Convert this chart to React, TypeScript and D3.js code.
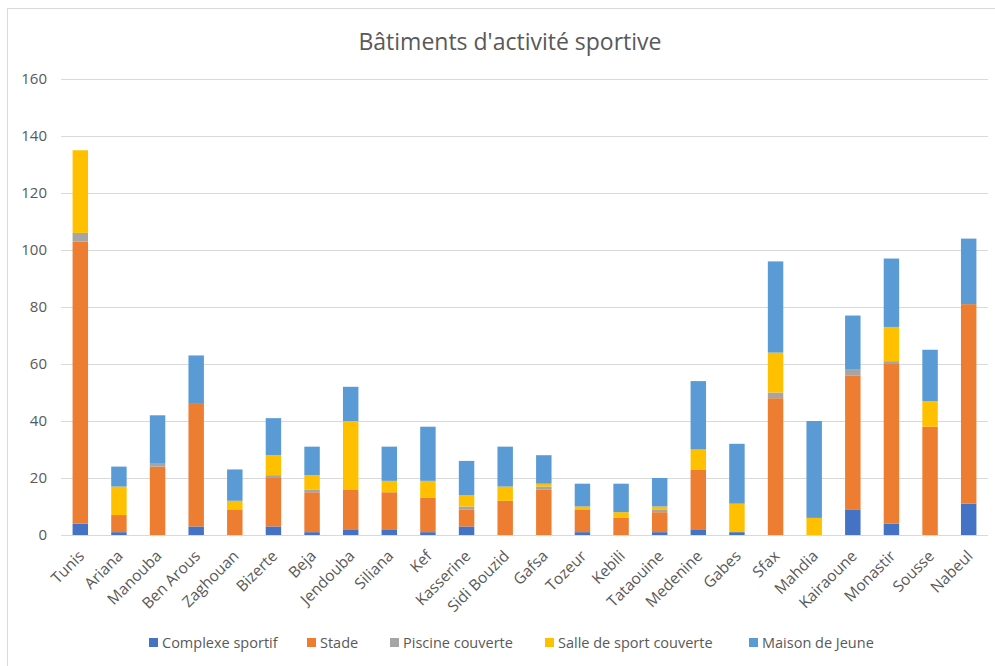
import React from "react";
import * as d3 from "d3";

const categories = ["Tunis","Ariana","Manouba","Ben Arous","Zaghouan","Bizerte","Beja","Jendouba","Siliana","Kef","Kasserine","Sidi Bouzid","Gafsa","Tozeur","Kebili","Tataouine","Medenine","Gabes","Sfax","Mahdia","Kairaoune","Monastir","Sousse","Nabeul"];
const complexeSportif = [4,1,0,3,0,3,1,2,2,1,3,0,0,1,0,1,2,1,0,0,9,4,0,11];
const stade = [99,6,24,43,9,17,14,14,13,12,6,12,16,8,6,7,21,0,48,0,47,56,38,70];
const piscineCouverte = [3,0,1,0,0,1,1,0,0,0,1,0,1,0,0,1,0,0,2,0,2,1,0,0];
const salleSport = [29,10,0,0,3,7,5,24,4,6,4,5,1,1,2,1,7,10,14,6,0,12,9,0];
const maisonJeune = [0,7,17,17,11,13,10,12,12,19,12,14,10,8,10,10,24,21,32,34,19,24,18,23];
const seriesNames = ["Complexe sportif","Stade","Piscine couverte","Salle de sport couverte","Maison de Jeune"];
const seriesColors = ["#4472C4","#ED7D31","#A5A5A5","#FFC000","#5B9BD5"];
const yTicks = [0,20,40,60,80,100,120,140,160];
const title = "Bâtiments d'activité sportive";

const W = 995, H = 666;
const left = 61, right = 988, top = 79, bottom = 535;
const font = "'Open Sans', sans-serif";
const textColor = "#595959";

export default function App() {
  const seriesValues = [complexeSportif, stade, piscineCouverte, salleSport, maisonJeune];
  const rows = categories.map((c, i) => {
    const r: any = { cat: c };
    seriesNames.forEach((s, k) => { r[s] = seriesValues[k][i]; });
    return r;
  });
  const stacked = d3.stack().keys(seriesNames)(rows);
  const x = d3.scaleBand().domain(categories).range([left, right]).paddingInner(0.6).paddingOuter(0.3);
  const y = d3.scaleLinear().domain([0, 160]).range([bottom, top]);
  const legendX = [149, 307, 390, 545, 749];

  return (
    <svg width={W} height={H} style={{ position: "absolute", left: 0, top: 0, background: "#fff" }} fontFamily={font}>
      <rect x={0} y={0} width={W} height={H} fill="#fff" />
      <rect x={7.5} y={8.5} width={W + 20} height={H + 20} fill="none" stroke="#d9d9d9" strokeWidth={1} />
      <text x={510} y={50} textAnchor="middle" fontSize={23} fill={textColor}>{title}</text>
      {yTicks.map(t => (
        <g key={t}>
          <line x1={left} x2={right} y1={Math.round(y(t)) + 0.5} y2={Math.round(y(t)) + 0.5} stroke="#d9d9d9" strokeWidth={1} />
          <text x={47} y={y(t)} dy="0.35em" textAnchor="end" fontSize={15} fill={textColor}>{t}</text>
        </g>
      ))}
      {stacked.map((s, k) => (
        <g key={s.key} fill={seriesColors[k]}>
          {s.map((d, i) => (
            d[1] - d[0] > 0 ? (
              <rect key={i} x={x(categories[i])!} width={x.bandwidth()} y={y(d[1])} height={y(d[0]) - y(d[1])} />
            ) : null
          ))}
        </g>
      ))}
      {categories.map(c => {
        const cx = x(c)! + x.bandwidth() / 2 + 5;
        const cy = 557;
        return (
          <text key={c} x={cx} y={cy} textAnchor="end" fontSize={15.5} fill={textColor} transform={`rotate(-45 ${cx} ${cy})`}>{c}</text>
        );
      })}
      {seriesNames.map((s, k) => (
        <g key={s}>
          <rect x={legendX[k]} y={638} width={9} height={9} fill={seriesColors[k]} />
          <text x={legendX[k] + 13} y={643} dy="0.35em" fontSize={14.5} fill={textColor}>{s}</text>
        </g>
      ))}
    </svg>
  );
}
